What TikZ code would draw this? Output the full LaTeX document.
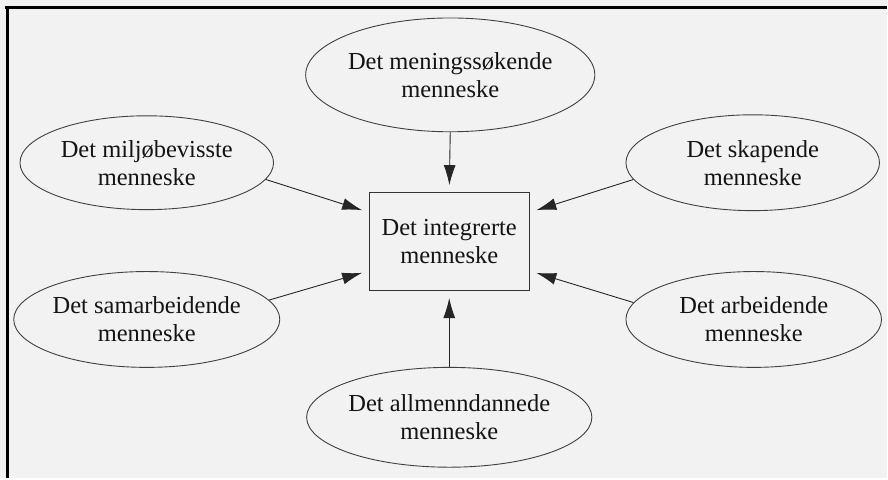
\documentclass[tikz,border=0pt]{standalone}
\usepackage{fontspec}
\setmainfont{Liberation Serif}
\usetikzlibrary{shapes.geometric,arrows.meta}

\begin{document}
\begin{tikzpicture}[x=1pt,y=-1pt,
    tekst/.style={align=center,text=black!92,font=\fontsize{24.5}{28}\selectfont},
    menneske/.style={tekst,ellipse,draw=black!75,line width=0.9pt,inner sep=0pt},
    pil/.style={-{Latex[length=20pt,width=12pt]},line width=0.9pt,draw=black!85,shorten >=7pt}]
    \fill[black!5] (0,0) rectangle (888,479);
    \draw[line width=3pt] (5,7.5) -- (888,7.5);
    \draw[line width=3pt] (7.5,6) -- (7.5,479);
    \node[tekst,draw=black!80,line width=1.1pt,minimum width=160pt,minimum height=98pt] (integ) at (450,242) {Det integrerte\\menneske};
    \node[menneske,minimum width=242pt,minimum height=114pt] (mening) at (451,75) {Det meningssøkende\\menneske};
    \node[menneske,minimum width=254pt,minimum height=94pt] (miljo) at (147,163) {Det miljøbevisste\\menneske};
    \node[menneske,minimum width=254pt,minimum height=96pt] (skap) at (754,163) {Det skapende\\menneske};
    \node[menneske,minimum width=254pt,minimum height=96pt] (samarb) at (147,320) {Det samarbeidende\\menneske};
    \node[menneske,minimum width=256pt,minimum height=96pt] (arb) at (755,320) {Det arbeidende\\menneske};
    \node[menneske,minimum width=256pt,minimum height=100pt] (allm) at (450,418) {Det allmenndannede\\menneske};
    \draw[pil] (mening.south) -- (integ.north);
    \draw[pil] (miljo.-8) -- (integ.160);
    \draw[pil] (skap.188) -- (integ.20);
    \draw[pil] (samarb.9) -- (integ.200);
    \draw[pil] (arb.172) -- (integ.340);
    \draw[pil] (allm.north) -- (integ.south);
\end{tikzpicture}
\end{document}
